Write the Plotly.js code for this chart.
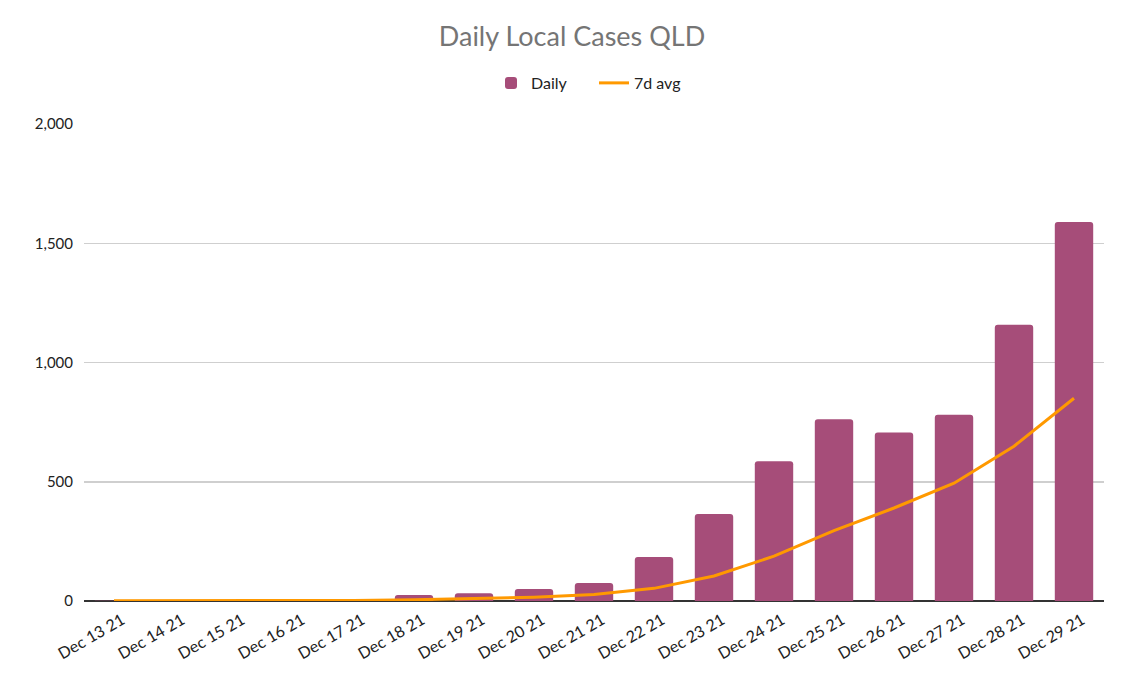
<!DOCTYPE html>
<html>
<head>
<meta charset="utf-8">
<script src="https://cdn.plot.ly/plotly-3.0.1.min.js"></script>
<style>html,body{margin:0;padding:0;background:#fff;}#chart{width:1144px;height:700px;}</style>
</head>
<body>
<div id="chart"></div>
<script>
const categories = ["Dec 13 21","Dec 14 21","Dec 15 21","Dec 16 21","Dec 17 21","Dec 18 21","Dec 19 21","Dec 20 21","Dec 21 21","Dec 22 21","Dec 23 21","Dec 24 21","Dec 25 21","Dec 26 21","Dec 27 21","Dec 28 21","Dec 29 21"];
const daily = [1, 0, 0, 3, 2, 25, 32, 50, 75, 184, 365, 586, 762, 706, 781, 1158, 1589];
const avg7 = [1, 1, 1, 1.5, 2, 5, 9, 16, 27, 53, 105, 188, 295, 390, 494, 649, 850];
const yTicks = [0, 500, 1000, 1500, 2000];
const yTickText = ["0", "500", "1,000", "1,500", "2,000"];

const font = "Lato, 'Open Sans', sans-serif";
const traces = [
  {type: "bar", name: "Daily", x: categories, y: daily, marker: {color: "#a64d79"}},
  {type: "scatter", mode: "lines", name: "7d avg", x: categories, y: avg7, line: {color: "#ff9900", width: 3}}
];
const layout = {
  width: 1144, height: 700,
  margin: {l: 84, r: 40, t: 124, b: 99},
  paper_bgcolor: "#fff", plot_bgcolor: "#fff",
  font: {family: font, size: 15, color: "#222"},
  title: {text: "Daily Local Cases QLD", x: 0.5, xanchor: "center", y: 0.948, yanchor: "middle", font: {family: font, size: 27, color: "#757575"}},
  bargap: 0.36,
  barcornerradius: 3,
  showlegend: true,
  legend: {orientation: "h", x: 0.5, xanchor: "center", y: 1.086, yanchor: "middle", font: {family: font, size: 16, color: "#222"}, entrywidth: 58, entrywidthmode: "pixels", traceorder: "normal"},
  xaxis: {type: "category", tickangle: -30, showgrid: false, showline: false, ticks: "", ticklabelshift: 8, ticklabelstandoff: 6, tickfont: {family: font, size: 16, color: "#222"}, automargin: false},
  yaxis: {range: [0, 2000], tickvals: yTicks, ticktext: yTickText, showgrid: true, gridcolor: "#cfcfcf", gridwidth: 1.5, zeroline: true, zerolinecolor: "#333", zerolinewidth: 1.5, ticks: "", ticklabelstandoff: 10, tickfont: {family: font, size: 15, color: "#222"}, automargin: false, fixedrange: true}
};
Plotly.newPlot("chart", traces, layout, {displayModeBar: false, staticPlot: true});
</script>
</body>
</html>
